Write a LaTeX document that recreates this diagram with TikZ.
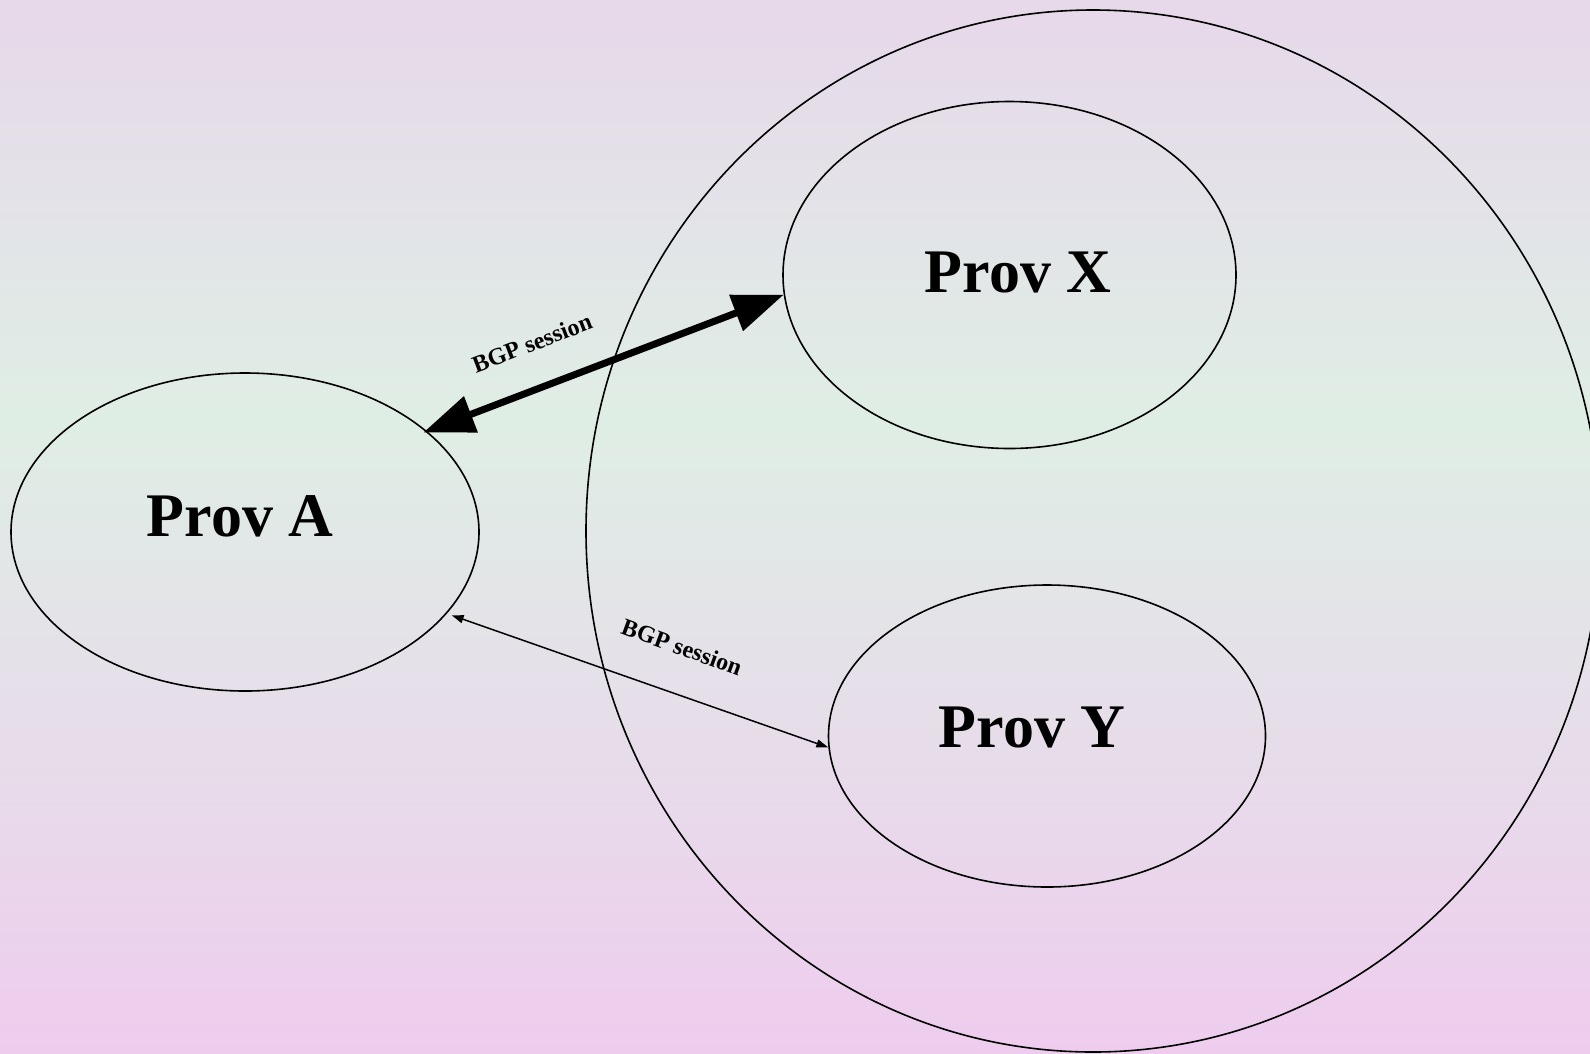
\documentclass[tikz,border=0pt]{standalone}
\usepackage{fontspec}
\setmainfont{Liberation Serif}
\usetikzlibrary{shapes.geometric,arrows.meta}
\definecolor{bgtop}{HTML}{E7D8EA}
\definecolor{bgmid}{HTML}{DFEEE5}
\definecolor{bgbot}{HTML}{EECCEE}
\tikzset{
  prov/.style={ellipse,draw=black,line width=1.6pt,inner sep=0pt},
  provtext/.style={anchor=base,inner sep=0pt,font=\fontsize{62}{74}\selectfont\bfseries},
  sesstext/.style={inner sep=0pt,font=\fontsize{24}{28}\selectfont\bfseries},
  bigsess/.style={line width=7pt,{Triangle[length=51pt,width=37pt]}-{Triangle[length=51pt,width=37pt]}},
  smallsess/.style={line width=1.5pt,{Triangle[length=12pt,width=8pt]}-{Triangle[length=12pt,width=8pt]}}
}
\begin{document}
\begin{tikzpicture}[x=1pt,y=-1pt]
\useasboundingbox (0,0) rectangle (1590,1053);
% background wash
\fill[top color=bgtop,bottom color=bgmid,draw=none] (0,0) rectangle (1590,421);
\fill[top color=bgmid,bottom color=bgbot,draw=none] (0,420) rectangle (1590,1053);
% outer region
\begin{scope}
\clip (0,0) rectangle (1590,1053);
\node[prov,minimum width=1014pt,minimum height=1042pt] (outer) at (1093,531) {};
\end{scope}
% providers
\node[prov,minimum width=468pt,minimum height=318pt] (A) at (245,532) {};
\node[prov,minimum width=453pt,minimum height=347pt] (X) at (1009.5,275) {};
\node[prov,minimum width=437pt,minimum height=302pt] (Y) at (1047,736) {};
\node[provtext] (tA) at (240,536) {Prov A};
\node[provtext] (tX) at (1018,292) {Prov X};
\node[provtext] (tY) at (1032,747) {Prov Y};
% sessions
\draw[bigsess,shorten <=-4pt] (A.29.5) -- (X.185.8);
\draw[smallsess,shorten <=5pt] (A.338.2) -- (Y.183.8);
\node[sesstext,rotate=21] (s1) at (532,343) {BGP session};
\node[sesstext,rotate=-20] (s2) at (682,647) {BGP session};
\end{tikzpicture}
\end{document}
